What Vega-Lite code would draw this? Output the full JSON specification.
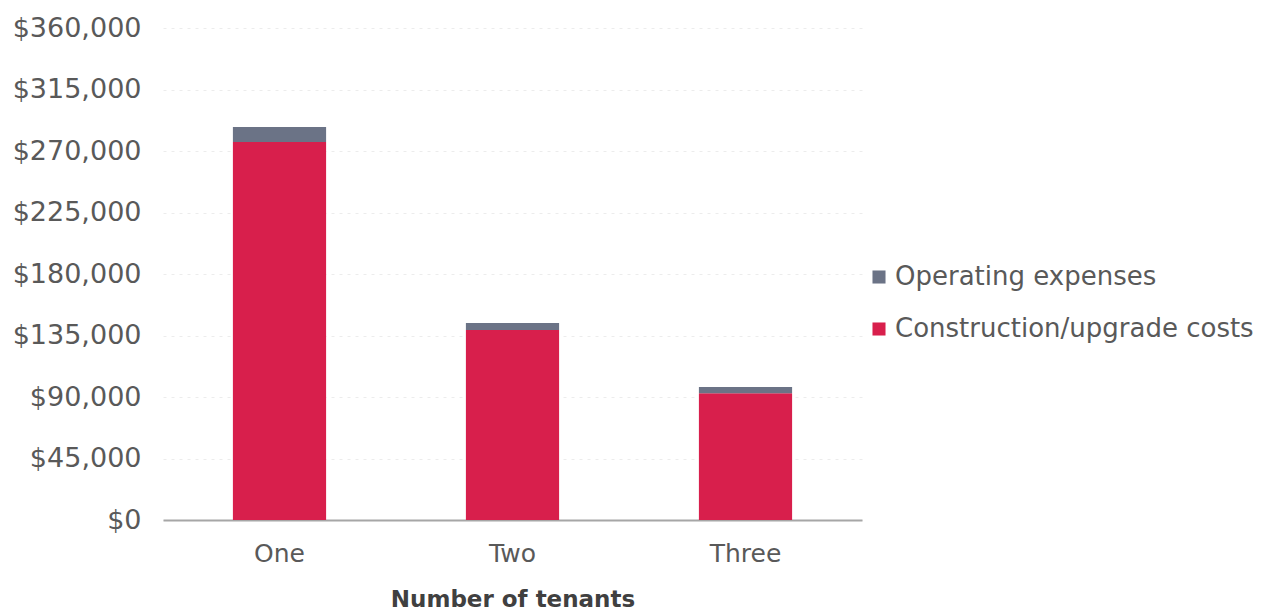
{
  "$schema": "https://vega.github.io/schema/vega-lite/v6.json",
  "width": 699,
  "height": 492,
  "autosize": {"type": "none"},
  "padding": {"left": 163, "top": 28, "right": 418, "bottom": 94},
  "background": "white",
  "config": {
    "view": {"stroke": null},
    "font": "DejaVu Sans"
  },
  "data": {
    "values": [
      {"tenants": "One", "type": "Construction/upgrade costs", "cost": 276500},
      {"tenants": "One", "type": "Operating expenses", "cost": 11000},
      {"tenants": "Two", "type": "Construction/upgrade costs", "cost": 139000},
      {"tenants": "Two", "type": "Operating expenses", "cost": 5200},
      {"tenants": "Three", "type": "Construction/upgrade costs", "cost": 92800},
      {"tenants": "Three", "type": "Operating expenses", "cost": 4500}
    ]
  },
  "mark": {"type": "bar"},
  "encoding": {
    "x": {
      "field": "tenants",
      "type": "nominal",
      "sort": ["One", "Two", "Three"],
      "scale": {"paddingInner": 0.6, "paddingOuter": 0.3},
      "axis": {
        "title": "Number of tenants",
        "titleFont": "DejaVu Sans",
        "titleFontSize": 23,
        "titleFontWeight": "bold",
        "titleColor": "#404040",
        "titlePadding": 22,
        "labelAngle": 0,
        "labelFont": "DejaVu Sans",
        "labelFontSize": 25,
        "labelColor": "#595959",
        "labelPadding": 21,
        "ticks": false,
        "domainColor": "#a6a6a6",
        "domainWidth": 2,
        "grid": false
      }
    },
    "y": {
      "field": "cost",
      "type": "quantitative",
      "stack": "zero",
      "scale": {"domain": [0, 360000], "nice": false},
      "axis": {
        "title": null,
        "values": [0, 45000, 90000, 135000, 180000, 225000, 270000, 315000, 360000],
        "format": "$,.0f",
        "labelFont": "DejaVu Sans",
        "labelFontSize": 27,
        "labelColor": "#595959",
        "labelPadding": 22,
        "ticks": false,
        "domain": false,
        "grid": true,
        "gridColor": "#ececec",
        "gridDash": [3, 5],
        "gridWidth": 1
      }
    },
    "color": {
      "field": "type",
      "type": "nominal",
      "scale": {
        "domain": ["Operating expenses", "Construction/upgrade costs"],
        "range": ["#6b7386", "#d81f4c"]
      },
      "legend": {
        "title": null,
        "orient": "none",
        "legendX": 703,
        "legendY": 236,
        "symbolType": "square",
        "symbolSize": 170,
        "labelFont": "DejaVu Sans",
        "labelFontSize": 26,
        "labelColor": "#595959",
        "labelOffset": 3,
        "labelLimit": 600,
        "rowPadding": 26,
        "symbolStrokeWidth": 0
      }
    },
    "order": {"field": "type", "sort": "ascending"}
  }
}
